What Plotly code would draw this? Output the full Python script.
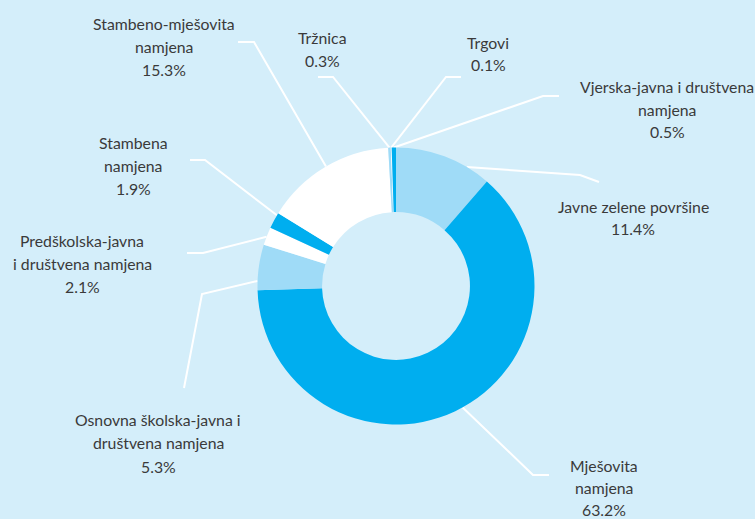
import math
import plotly.graph_objects as go

# ---------------- data ----------------
categories = [
    "Javne zelene površine",
    "Mješovita namjena",
    "Osnovna školska-javna i društvena namjena",
    "Predškolska-javna i društvena namjena",
    "Stambena namjena",
    "Stambeno-mješovita namjena",
    "Tržnica",
    "Trgovi",
    "Vjerska-javna i društvena namjena",
]
values = [11.4, 63.2, 5.3, 2.1, 1.9, 15.3, 0.3, 0.1, 0.5]
# how each category name is broken over lines in the labels
label_text_lines = [
    ["Javne zelene površine"],
    ["Mješovita", "namjena"],
    ["Osnovna školska-javna i", "društvena namjena"],
    ["Predškolska-javna", "i društvena namjena"],
    ["Stambena", "namjena"],
    ["Stambeno-mješovita", "namjena"],
    ["Tržnica"],
    ["Trgovi"],
    ["Vjerska-javna i društvena", "namjena"],
]

# ---------------- style / layout ----------------
W, H = 755, 519
BG = "#d4eefa"
BLUE = "#00aeef"
LIGHT = "#9fdbf7"
WHITE = "#ffffff"
slice_colors = [LIGHT, BLUE, LIGHT, WHITE, BLUE, WHITE, LIGHT, WHITE, BLUE]
TEXT_COLOR = "#3a3a3a"
FONT = "Lato"
FONT_SIZE = 15.8

CX, CY, R = 396, 286, 138.5     # donut centre / outer radius in pixels
HOLE = 0.534

# label placement: (centre x, first line y, line step) in pixels
label_pos = [
    (633, 206, 22),
    (604, 465, 22),
    (158, 419, 23.5),
    (82, 240, 23),
    (133, 142, 23),
    (164, 23.5, 23),
    (322, 37.5, 22.5),
    (488, 42, 22),
    (667, 86.5, 22.5),
]
# leader lines: where on the slice (0..1 of its arc) the line starts, then bend points
anchor_frac = [0.75, 0.485, 0.2, 0.46, 0.85, 0.507, 0.5, 0.5, 0.5]
leader_points = [
    [(580, 175), (599, 182)],
    [(533, 475), (549, 475)],
    [(202, 294), (184, 388)],
    [(203, 253), (187, 253)],
    [(205, 160), (190, 160)],
    [(254, 42), (238, 42)],
    [(333, 77), (318, 77)],
    [(446, 77), (461, 77)],
    [(543, 96), (559, 96)],
]

# ---------------- figure ----------------
fig = go.Figure()

total = sum(values)
lx, ly = [], []
cum = 0.0
for v, frac, pts in zip(values, anchor_frac, leader_points):
    a0 = cum / total * 360
    a1 = (cum + v) / total * 360
    cum += v
    ang = math.radians(a0 + (a1 - a0) * frac)
    ax = CX + R * math.sin(ang)
    ay = CY - R * math.cos(ang)
    xs = [ax] + [p[0] for p in pts]
    ys = [ay] + [p[1] for p in pts]
    lx += xs + [None]
    ly += ys + [None]

fig.add_trace(go.Scatter(
    x=lx, y=ly, mode="lines",
    line=dict(color="white", width=2),
    hoverinfo="skip", showlegend=False,
))

fig.add_trace(go.Pie(
    labels=categories,
    values=values,
    sort=False,
    direction="clockwise",
    rotation=0,
    hole=HOLE,
    marker=dict(colors=slice_colors, line=dict(width=0)),
    textinfo="none",
    hovertemplate="%{label}: %{value}%<extra></extra>",
    domain=dict(
        x=[(CX - R) / W, (CX + R) / W],
        y=[1 - (CY + R) / H, 1 - (CY - R) / H],
    ),
    showlegend=False,
))

for lines, v, (x, y0, step) in zip(label_text_lines, values, label_pos):
    all_lines = lines + [f"{v:.1f}%"]
    for i, t in enumerate(all_lines):
        fig.add_annotation(
            x=x, y=y0 + i * step, xref="x", yref="y",
            text=t, showarrow=False,
            xanchor="center", yanchor="middle", borderpad=0,
            font=dict(family=FONT, size=FONT_SIZE, color=TEXT_COLOR),
        )

fig.update_layout(
    width=W, height=H,
    margin=dict(l=0, r=0, t=0, b=0),
    paper_bgcolor=BG, plot_bgcolor=BG,
    xaxis=dict(range=[0, W], visible=False, fixedrange=True),
    yaxis=dict(range=[H, 0], visible=False, fixedrange=True),
    showlegend=False,
)

fig.write_html(
    "out.html",
    config={"displayModeBar": False},
    post_script="document.body.style.margin='0';document.body.style.overflow='hidden';",
)
